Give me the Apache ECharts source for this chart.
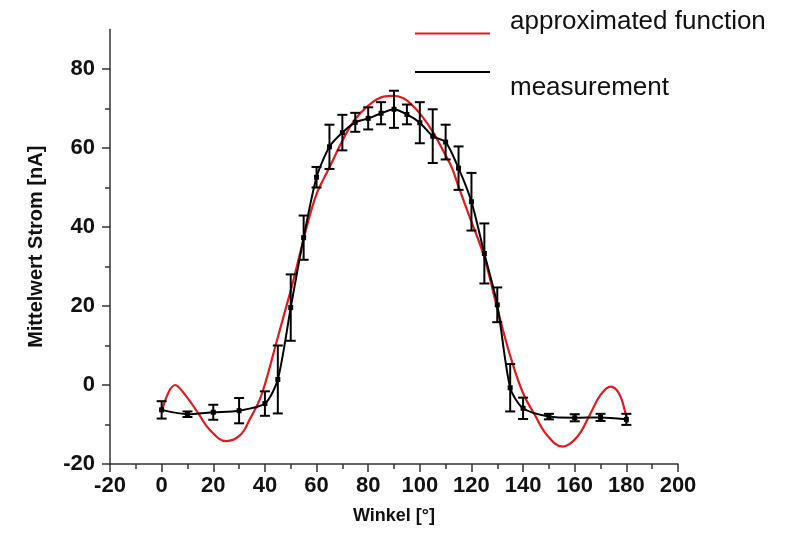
<!DOCTYPE html>
<html>
<head>
<meta charset="utf-8">
<script src="https://cdn.jsdelivr.net/npm/echarts@6/dist/echarts.min.js"></script>
<style>
  html, body { margin: 0; padding: 0; background: #fff; }
  #chart { width: 785px; height: 545px; }
</style>
</head>
<body>
<div id="chart"></div>
<script>
// measurement (angle in degrees, mean current in nA, error)
const angles = [0, 10, 20, 30, 40, 45, 50, 55, 60, 65, 70, 75, 80, 85, 90, 95, 100, 105, 110, 115, 120, 125, 130, 135, 140, 150, 160, 170, 180];
const current = [-6.3, -7.4, -6.9, -6.5, -4.7, 1.4, 19.6, 37.3, 52.6, 60.3, 63.9, 66.5, 67.5, 68.8, 69.8, 68.5, 66.4, 63.0, 61.5, 54.9, 46.4, 33.3, 20.3, -0.7, -5.9, -8.0, -8.3, -8.2, -8.7];
const errors = [2.2, 0.7, 1.9, 3.2, 3.1, 8.6, 8.4, 5.6, 2.6, 5.6, 4.5, 2.4, 2.8, 2.8, 4.7, 2.5, 5.2, 6.8, 4.4, 5.5, 7.3, 7.6, 4.4, 6.0, 2.7, 0.7, 0.9, 0.9, 1.4];

// approximated function
const fitX = [0, 5.2, 9.7, 14.2, 18.7, 25, 30.4, 34.3, 38.1, 40.5, 44, 47.2, 50.4, 53.6, 56.9, 60.1, 63, 65.3, 69.2, 73, 76.9, 81.5, 86, 89.8, 93.7, 97.6, 101.5, 105.4, 109.2, 112.5, 115, 119.6, 124.7, 130, 135.1, 140, 144.5, 149.3, 155.2, 161, 166.1, 170, 173.9, 177.1, 179.7, 180.4];
const fitY = [-6.8, 0, -3.0, -7.2, -11.4, -14.2, -12.7, -8.5, -3.5, 1.3, 9.7, 17.3, 24.9, 33.3, 41.8, 48.5, 52.5, 55.5, 60.8, 65.4, 68.8, 71.5, 73.0, 73.2, 72.6, 70.5, 67.5, 63.7, 59.1, 54.9, 50.2, 42.0, 32.9, 19.4, 7.2, -2.1, -7.5, -12.7, -15.6, -13.1, -7.2, -2.5, -0.4, -2.1, -7.2, -9.6];

const xTicks = [-20, 200, 20];
const yMajor = [-20, 0, 20, 40, 60, 80];
const yMinor = [-10, 10, 30, 50, 70];

const measData = angles.map((a, i) => [a, current[i]]);
const errData = angles.map((a, i) => [a, current[i] - errors[i], current[i] + errors[i]]);
const fitData = fitX.map((x, i) => [x, fitY[i]]);

const chart = echarts.init(document.getElementById('chart'));
const axisColor = '#333';
const tickFont = { fontFamily: 'Liberation Sans', fontWeight: 'bold', fontSize: 22, color: '#111' };

chart.setOption({
    animation: false,
    backgroundColor: '#fff',
    grid: { left: 110, right: 107, top: 29.5, bottom: 81 },
    xAxis: {
        type: 'value',
        min: xTicks[0],
        max: xTicks[1],
        interval: xTicks[2],
        name: 'Winkel [°]',
        nameLocation: 'middle',
        nameGap: 43,
        nameTextStyle: { fontFamily: 'Liberation Sans', fontWeight: 'bold', fontSize: 18, color: '#111' },
        axisLine: { onZero: false, lineStyle: { color: axisColor, width: 1.5 } },
        axisTick: { length: 8, lineStyle: { color: axisColor, width: 1.5 } },
        minorTick: { show: true, splitNumber: 2, length: 5, lineStyle: { color: axisColor, width: 1.5 } },
        axisLabel: { ...tickFont, margin: 11 },
        splitLine: { show: false }
    },
    yAxis: [{
        type: 'value',
        min: -20,
        max: 90,
        interval: 10,
        name: 'Mittelwert Strom [nA]',
        nameLocation: 'middle',
        nameGap: 64,
        nameTextStyle: { fontFamily: 'Liberation Sans', fontWeight: 'bold', fontSize: 20, color: '#111' },
        axisLine: { show: true, onZero: false, lineStyle: { color: axisColor, width: 1.5 } },
        axisTick: { show: true, length: 8, customValues: yMajor, lineStyle: { color: axisColor, width: 1.5 } },
        axisLabel: { ...tickFont, margin: 15, customValues: yMajor },
        splitLine: { show: false }
    }, {
        type: 'value',
        position: 'left',
        offset: 0,
        min: -20,
        max: 90,
        interval: 10,
        axisLine: { show: false, onZero: false },
        axisTick: { show: true, length: 5, customValues: yMinor, lineStyle: { color: axisColor, width: 1.5 } },
        axisLabel: { show: false },
        splitLine: { show: false }
    }],
    series: [
        {
            name: 'approximated function',
            type: 'line',
            data: fitData,
            smooth: 0.4,
            showSymbol: false,
            lineStyle: { color: '#e31a1c', width: 2.2 },
            z: 3
        },
        {
            name: 'measurement',
            type: 'line',
            data: measData,
            smooth: 0.25,
            symbol: 'rect',
            symbolSize: 5,
            itemStyle: { color: '#000' },
            lineStyle: { color: '#000', width: 2 },
            z: 4
        },
        {
            name: 'error',
            type: 'custom',
            data: errData,
            z: 4,
            renderItem: (params, api) => {
                const x = api.value(0);
                const lo = api.coord([x, api.value(1)]);
                const hi = api.coord([x, api.value(2)]);
                const hw = 5;
                const style = { stroke: '#000', lineWidth: 2 };
                return {
                    type: 'group',
                    children: [
                        { type: 'line', shape: { x1: lo[0], y1: lo[1], x2: hi[0], y2: hi[1] }, style },
                        { type: 'line', shape: { x1: lo[0] - hw, y1: lo[1], x2: lo[0] + hw, y2: lo[1] }, style },
                        { type: 'line', shape: { x1: hi[0] - hw, y1: hi[1], x2: hi[0] + hw, y2: hi[1] }, style }
                    ]
                };
            }
        }
    ],
    graphic: [
        { type: 'line', shape: { x1: 415, y1: 33.5, x2: 490, y2: 33.5 }, style: { stroke: '#e31a1c', lineWidth: 2 } },
        { type: 'line', shape: { x1: 415, y1: 72, x2: 490, y2: 72 }, style: { stroke: '#000', lineWidth: 2 } },
        { type: 'text', left: 510, top: 9, style: { text: 'approximated function', font: '26px "Liberation Sans"', fill: '#111' } },
        { type: 'text', left: 510, top: 75, style: { text: 'measurement', font: '26px "Liberation Sans"', fill: '#111' } }
    ]
});
</script>
</body>
</html>
